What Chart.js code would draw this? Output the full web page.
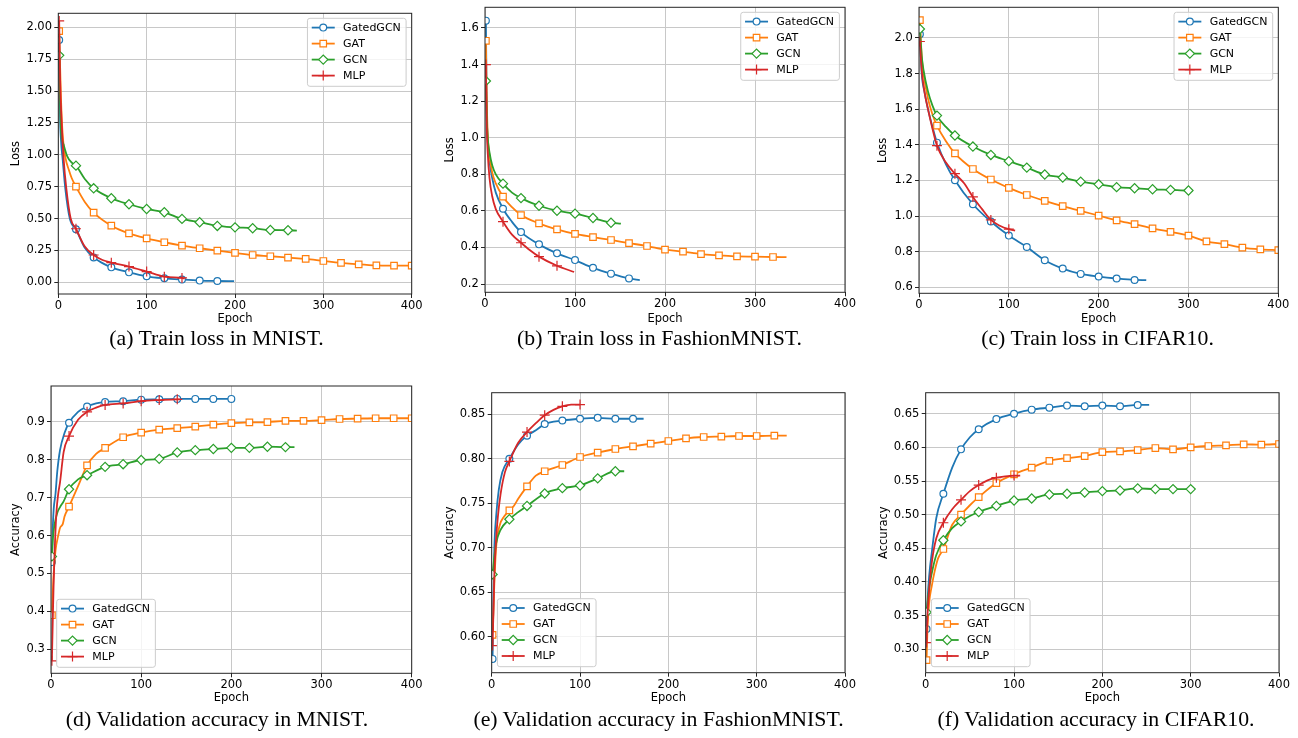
<!DOCTYPE html>
<html><head><meta charset="utf-8">
<script src="https://cdn.jsdelivr.net/npm/chart.js@4.4.1/dist/chart.umd.min.js"></script>
<style>
html,body{margin:0;padding:0;background:#fff;}
body{width:1298px;height:738px;position:relative;overflow:hidden;}
canvas{position:absolute;}
.cap{position:absolute;font-family:"Liberation Serif","Times New Roman",serif;font-size:21.8px;line-height:21.8px;white-space:nowrap;color:#000;transform:translateX(-50%);}
</style></head><body>
<div class="cap" style="left:216.5px;top:328px">(a) Train loss in MNIST.</div>
<div class="cap" style="left:659.5px;top:328px">(b) Train loss in FashionMNIST.</div>
<div class="cap" style="left:1097.5px;top:328px">(c) Train loss in CIFAR10.</div>
<div class="cap" style="left:217px;top:709px">(d) Validation accuracy in MNIST.</div>
<div class="cap" style="left:658.5px;top:709px">(e) Validation accuracy in FashionMNIST.</div>
<div class="cap" style="left:1096px;top:709px">(f) Validation accuracy in CIFAR10.</div>
<script>
// ---------- data ----------
const seriesNames = ['GatedGCN', 'GAT', 'GCN', 'MLP'];
const xTicks = [0, 100, 200, 300, 400];

// (a) Train loss in MNIST
const aYTicks = [0, 0.25, 0.5, 0.75, 1.0, 1.25, 1.5, 1.75, 2.0];
const aGatedEpochs = [1,2,3,5,8,13,20,30,40,50,60,80,100,120,140,160,180,199];
const aGatedLoss   = [1.90,1.30,1.12,0.96,0.73,0.50,0.416,0.27,0.195,0.15,0.117,0.078,0.047,0.031,0.021,0.013,0.010,0.009];
const aGatEpochs = [1,3,5,8,12,15,20,30,40,60,80,100,120,140,160,180,200,220,240,260,280,300,320,340,360,380,400];
const aGatLoss   = [1.97,1.45,1.15,0.98,0.88,0.82,0.75,0.63,0.546,0.444,0.384,0.345,0.314,0.288,0.267,0.248,0.230,0.214,0.204,0.193,0.183,0.167,0.152,0.141,0.133,0.131,0.130];
const aGcnEpochs = [1,2,3,6,10,15,20,30,40,60,80,100,120,140,160,180,200,220,240,260,270];
const aGcnLoss   = [1.78,1.45,1.20,1.08,0.99,0.94,0.915,0.81,0.737,0.659,0.612,0.575,0.549,0.497,0.471,0.442,0.431,0.424,0.410,0.408,0.405];
const aMlpEpochs = [1,2,4,6,9,14,20,30,40,50,60,80,100,120,140,143];
const aMlpLoss   = [2.05,1.60,1.22,0.97,0.74,0.50,0.42,0.28,0.214,0.175,0.154,0.123,0.084,0.044,0.034,0.030];

// (b) Train loss in FashionMNIST
const bYTicks = [0.2, 0.4, 0.6, 0.8, 1.0, 1.2, 1.4, 1.6];
const bGatedEpochs = [1,2,3,5,8,12,20,30,40,60,80,100,120,140,160,172];
const bGatedLoss   = [1.64,1.15,0.98,0.87,0.78,0.70,0.612,0.54,0.484,0.417,0.368,0.331,0.289,0.257,0.231,0.222];
const bGatEpochs = [1,2,3,5,8,12,20,30,40,60,80,100,120,140,160,180,200,220,240,260,280,300,320,335];
const bGatLoss   = [1.53,1.20,1.02,0.90,0.81,0.75,0.678,0.62,0.577,0.532,0.499,0.474,0.457,0.441,0.424,0.408,0.388,0.377,0.364,0.357,0.351,0.350,0.348,0.347];
const bGcnEpochs = [1,2,3,5,8,12,20,30,40,60,80,100,120,140,151];
const bGcnLoss   = [1.31,1.10,1.00,0.92,0.85,0.80,0.749,0.70,0.670,0.628,0.601,0.585,0.561,0.535,0.530];
const bMlpEpochs = [1,2,3,5,8,12,20,30,40,50,60,80,99];
const bMlpLoss   = [1.40,1.05,0.92,0.78,0.68,0.61,0.541,0.47,0.426,0.385,0.350,0.300,0.266];

// (c) Train loss in CIFAR10
const cYTicks = [0.6, 0.8, 1.0, 1.2, 1.4, 1.6, 1.8, 2.0];
const cGatedEpochs = [1,3,6,10,15,20,30,40,60,80,100,120,140,160,180,200,220,240,253];
const cGatedLoss   = [2.02,1.80,1.70,1.60,1.50,1.412,1.29,1.201,1.066,0.969,0.890,0.826,0.752,0.705,0.675,0.660,0.649,0.641,0.640];
const cGatEpochs = [1,3,5,10,15,20,30,40,60,80,100,120,140,160,180,200,220,240,260,280,300,320,340,360,380,400];
const cGatLoss   = [2.10,1.90,1.80,1.66,1.57,1.508,1.42,1.352,1.264,1.205,1.158,1.118,1.085,1.055,1.029,1.002,0.976,0.954,0.931,0.911,0.890,0.858,0.842,0.823,0.813,0.808];
const cGcnEpochs = [1,3,5,10,15,20,30,40,60,80,100,120,140,160,180,200,220,240,260,280,300,305];
const cGcnLoss   = [2.05,1.90,1.82,1.70,1.62,1.564,1.50,1.452,1.390,1.343,1.308,1.272,1.233,1.216,1.193,1.178,1.162,1.156,1.150,1.147,1.143,1.143];
const cMlpEpochs = [1,3,6,10,15,20,30,40,50,60,70,80,90,100,107];
const cMlpLoss   = [1.98,1.82,1.70,1.60,1.49,1.395,1.30,1.238,1.185,1.107,1.04,0.978,0.945,0.926,0.918];

// (d) Validation accuracy in MNIST
const dYTicks = [0.3, 0.4, 0.5, 0.6, 0.7, 0.8, 0.9];
const dGatedEpochs = [1,2,3,5,7,10,15,20,30,40,50,60,80,100,120,140,160,180,200];
const dGatedAcc    = [0.53,0.62,0.67,0.71,0.77,0.825,0.87,0.897,0.926,0.940,0.948,0.952,0.954,0.958,0.959,0.960,0.960,0.960,0.960];
const dGatEpochs = [1,2,3,5,8,10,13,15,20,30,40,50,60,80,100,120,140,160,180,200,220,240,260,280,300,320,340,360,380,400];
const dGatAcc    = [0.39,0.45,0.50,0.56,0.60,0.62,0.63,0.65,0.676,0.73,0.785,0.815,0.831,0.859,0.871,0.879,0.883,0.887,0.892,0.896,0.898,0.899,0.902,0.902,0.904,0.907,0.908,0.909,0.909,0.909];
const dGcnEpochs = [1,2,4,7,10,14,20,30,40,60,80,100,120,140,160,180,200,220,240,260,270];
const dGcnAcc    = [0.545,0.59,0.63,0.66,0.675,0.69,0.722,0.748,0.759,0.781,0.788,0.799,0.802,0.819,0.825,0.828,0.831,0.831,0.834,0.833,0.833];
const dMlpEpochs = [1,2,3,4,6,8,10,14,20,30,40,50,60,80,100,120,140,143];
const dMlpAcc    = [0.27,0.38,0.48,0.555,0.66,0.71,0.74,0.82,0.862,0.905,0.926,0.937,0.944,0.948,0.954,0.957,0.959,0.959];

// (e) Validation accuracy in FashionMNIST
const eYTicks = [0.60, 0.65, 0.70, 0.75, 0.80, 0.85];
const eGatedEpochs = [1,2,3,5,8,12,20,30,40,50,60,80,100,120,140,160,172];
const eGatedAcc    = [0.575,0.65,0.70,0.735,0.765,0.785,0.80,0.816,0.826,0.832,0.839,0.843,0.845,0.846,0.845,0.845,0.845];
const eGatEpochs = [1,2,3,5,9,14,20,25,30,40,50,60,80,100,120,140,160,180,200,220,240,260,280,300,320,334];
const eGatAcc    = [0.602,0.63,0.66,0.70,0.725,0.735,0.742,0.747,0.755,0.769,0.781,0.786,0.793,0.802,0.807,0.811,0.814,0.817,0.820,0.823,0.8245,0.825,0.8256,0.8256,0.826,0.826];
const eGcnEpochs = [1,3,5,10,20,30,40,60,80,100,120,140,150];
const eGcnAcc    = [0.67,0.69,0.705,0.72,0.732,0.740,0.747,0.761,0.767,0.770,0.778,0.786,0.786];
const eMlpEpochs = [1,2,3,5,7,10,15,20,30,40,50,60,70,80,90,100];
const eMlpAcc    = [0.59,0.63,0.67,0.71,0.735,0.76,0.785,0.797,0.818,0.830,0.840,0.849,0.855,0.859,0.861,0.861];

// (f) Validation accuracy in CIFAR10
const fYTicks = [0.30, 0.35, 0.40, 0.45, 0.50, 0.55, 0.60, 0.65];
const fGatedEpochs = [1,2,4,7,12,20,30,40,50,60,80,100,120,140,160,180,200,220,240,253];
const fGatedAcc    = [0.33,0.37,0.41,0.445,0.495,0.531,0.57,0.597,0.615,0.627,0.642,0.650,0.656,0.659,0.662,0.661,0.662,0.661,0.663,0.663];
const fGatEpochs = [1,2,4,7,10,14,20,30,40,50,60,80,100,120,140,160,180,200,220,240,260,280,300,320,340,360,380,400];
const fGatAcc    = [0.284,0.33,0.37,0.395,0.415,0.435,0.449,0.485,0.50,0.514,0.526,0.547,0.560,0.570,0.580,0.584,0.587,0.593,0.594,0.596,0.599,0.597,0.600,0.602,0.603,0.6045,0.604,0.605];
const fGcnEpochs = [1,3,5,8,12,20,30,40,50,60,80,100,120,140,160,180,200,220,240,260,280,300,305];
const fGcnAcc    = [0.355,0.38,0.40,0.42,0.44,0.462,0.48,0.490,0.498,0.504,0.513,0.521,0.524,0.530,0.531,0.533,0.535,0.536,0.539,0.538,0.538,0.538,0.538];
const fMlpEpochs = [1,2,4,7,12,20,30,40,50,60,70,80,90,100,107];
const fMlpAcc    = [0.31,0.35,0.39,0.43,0.465,0.488,0.508,0.522,0.535,0.544,0.551,0.555,0.557,0.558,0.558];

// ---------- styling ----------
const colors = ['#1f77b4', '#ff7f0e', '#2ca02c', '#d62728'];
const markers = [
  {style: 'circle', r: 3.4},
  {style: 'rect', r: 4.6},
  {style: 'rectRot', r: 4.6},
  {style: 'cross', r: 5}
];
const markEvery = 20;
const FS = 11.5;
const FONT = 'DejaVu Sans';
Chart.defaults.font.family = FONT;
Chart.defaults.font.size = FS;
Chart.defaults.color = '#000';

const panels = [
  {box:{x:0,y:-12,w:430,h:345}, area:{L:58.3,R:411.7,T:13.3,B:294}, yMin:-0.092, yMax:2.11, yTicks:aYTicks, dec:2, yTitle:'Loss', titleX:15.7, epochY:319.3, legend:'tr',
   series:[[aGatedEpochs,aGatedLoss],[aGatEpochs,aGatLoss],[aGcnEpochs,aGcnLoss],[aMlpEpochs,aMlpLoss]]},
  {box:{x:430,y:-12,w:430,h:345}, area:{L:485,R:845,T:7.3,B:292.3}, yMin:0.155, yMax:1.713, yTicks:bYTicks, dec:1, yTitle:'Loss', titleX:450, epochY:319.3, legend:'tr',
   series:[[bGatedEpochs,bGatedLoss],[bGatEpochs,bGatLoss],[bGcnEpochs,bGcnLoss],[bMlpEpochs,bMlpLoss]]},
  {box:{x:860,y:-12,w:438,h:345}, area:{L:919,R:1278.3,T:7.3,B:293.3}, yMin:0.566, yMax:2.172, yTicks:cYTicks, dec:1, yTitle:'Loss', titleX:883.3, epochY:319.3, legend:'tr',
   series:[[cGatedEpochs,cGatedLoss],[cGatEpochs,cGatLoss],[cGcnEpochs,cGcnLoss],[cMlpEpochs,cMlpLoss]]},
  {box:{x:0,y:360,w:430,h:355}, area:{L:51,R:411.7,T:386,B:673.3}, yMin:0.237, yMax:0.994, yTicks:dYTicks, dec:1, yTitle:'Accuracy', titleX:15.7, epochY:698.3, legend:'bl',
   series:[[dGatedEpochs,dGatedAcc],[dGatEpochs,dGatAcc],[dGcnEpochs,dGcnAcc],[dMlpEpochs,dMlpAcc]]},
  {box:{x:430,y:360,w:430,h:355}, area:{L:491.7,R:845,T:392.7,B:672.7}, yMin:0.5595, yMax:0.8743, yTicks:eYTicks, dec:2, yTitle:'Accuracy', titleX:450, epochY:698.3, legend:'bl',
   series:[[eGatedEpochs,eGatedAcc],[eGatEpochs,eGatAcc],[eGcnEpochs,eGcnAcc],[eMlpEpochs,eMlpAcc]]},
  {box:{x:860,y:360,w:438,h:355}, area:{L:925.7,R:1279,T:392.7,B:672.7}, yMin:0.2652, yMax:0.6812, yTicks:fYTicks, dec:2, yTitle:'Accuracy', titleX:884, epochY:698.3, legend:'bl',
   series:[[fGatedEpochs,fGatedAcc],[fGatEpochs,fGatAcc],[fGcnEpochs,fGcnAcc],[fMlpEpochs,fMlpAcc]]}
];

function drawMarker(ctx, style, x, y, r) {
  ctx.beginPath();
  if (style === 'circle') {
    ctx.arc(x, y, r, 0, Math.PI * 2);
    ctx.fill(); ctx.stroke();
  } else if (style === 'rect') {
    const s = Math.SQRT1_2 * r;
    ctx.rect(x - s, y - s, 2 * s, 2 * s);
    ctx.fill(); ctx.stroke();
  } else if (style === 'rectRot') {
    ctx.moveTo(x - r, y); ctx.lineTo(x, y - r); ctx.lineTo(x + r, y); ctx.lineTo(x, y + r); ctx.closePath();
    ctx.fill(); ctx.stroke();
  } else if (style === 'cross') {
    ctx.moveTo(x - r, y); ctx.lineTo(x + r, y); ctx.moveTo(x, y - r); ctx.lineTo(x, y + r);
    ctx.stroke();
  }
}

const mplPlugin = {
  id: 'mplFrameLegend',
  afterDraw(chart, args, opts) {
    const ctx = chart.ctx, a = chart.chartArea;
    ctx.save();
    // frame (all four spines)
    ctx.strokeStyle = '#262626';
    ctx.lineWidth = 1;
    ctx.strokeRect(a.left, a.top, a.right - a.left, a.bottom - a.top);
    // legend
    ctx.font = '11px "' + FONT + '"';
    const ds = chart.data.datasets;
    const pad = 4.3, handle = 23, gap = 8.3, rowH = 16;
    const tw = Math.max(...ds.map(d => ctx.measureText(d.label).width));
    const w = pad + handle + gap + tw + pad + 1;
    const h = 9.3 + rowH * (ds.length - 1) + 10.7;
    let x0, y0;
    if (opts.corner === 'tr') { x0 = a.right - 5.6 - w; y0 = a.top + 5; }
    else { x0 = a.left + 5.7; y0 = a.bottom - 6 - h; }
    ctx.beginPath();
    if (ctx.roundRect) ctx.roundRect(x0, y0, w, h, 2.5); else ctx.rect(x0, y0, w, h);
    ctx.fillStyle = 'rgba(255,255,255,0.8)';
    ctx.fill();
    ctx.strokeStyle = '#cccccc';
    ctx.lineWidth = 1;
    ctx.stroke();
    ds.forEach((d, i) => {
      const cy = y0 + 9.3 + i * rowH;
      ctx.strokeStyle = d.borderColor;
      ctx.lineWidth = d.borderWidth;
      ctx.beginPath();
      ctx.moveTo(x0 + pad, cy); ctx.lineTo(x0 + pad + handle, cy);
      ctx.stroke();
      ctx.fillStyle = '#fff';
      ctx.lineWidth = 1.2;
      drawMarker(ctx, markers[i].style, x0 + pad + handle / 2, cy, markers[i].r);
      ctx.fillStyle = '#000';
      ctx.textBaseline = 'middle';
      ctx.textAlign = 'left';
      ctx.fillText(d.label, x0 + pad + handle + gap, cy + 0.5);
    });
    ctx.restore();
  }
};

function build(p) {
  const cv = document.createElement('canvas');
  cv.width = p.box.w; cv.height = p.box.h;
  cv.style.left = p.box.x + 'px'; cv.style.top = p.box.y + 'px';
  cv.style.width = p.box.w + 'px'; cv.style.height = p.box.h + 'px';
  document.body.insertBefore(cv, document.body.firstChild);
  const lh = FS * 1.2, tPad = 2;
  const yW = p.area.L - p.titleX + lh / 2 + tPad;
  const padL = p.area.L - p.box.x - yW;
  const xH = p.epochY - p.area.B + lh / 2 + tPad;
  const padB = (p.box.y + p.box.h) - p.area.B - xH;
  const padT = p.area.T - p.box.y;
  const padR = p.box.x + p.box.w - p.area.R;
  const gridCommon = {color: '#c8c8c8', lineWidth: 1, tickColor: '#262626', tickLength: 4, tickWidth: 1, drawTicks: true};
  new Chart(cv, {
    type: 'line',
    data: {
      datasets: p.series.map((s, i) => ({
        label: seriesNames[i],
        data: s[0].map((x, j) => ({x: x, y: s[1][j]})),
        borderColor: colors[i],
        backgroundColor: colors[i],
        borderWidth: 1.8,
        fill: false,
        cubicInterpolationMode: 'monotone',
        pointStyle: markers[i].style,
        pointRadius: ctx => (ctx.raw && (ctx.dataIndex === 0 || ctx.raw.x % markEvery === 0)) ? markers[i].r : 0,
        pointBorderColor: colors[i],
        pointBackgroundColor: '#ffffff',
        pointBorderWidth: 1.2,
        order: 4 - i
      }))
    },
    options: {
      responsive: false,
      animation: false,
      events: [],
      layout: {padding: {left: padL, right: padR, top: padT, bottom: padB}},
      plugins: {legend: {display: false}, tooltip: {enabled: false}, mplFrameLegend: {corner: p.legend}},
      scales: {
        x: {
          type: 'linear', min: 0, max: 400,
          afterBuildTicks: sc => { sc.ticks = xTicks.map(v => ({value: v})); },
          afterFit: sc => { sc.height = xH; },
          grid: gridCommon,
          border: {display: false},
          ticks: {padding: 1, maxRotation: 0, color: '#000', font: {size: FS}, callback: v => String(v)},
          title: {display: true, text: 'Epoch', color: '#000', font: {size: FS}, padding: {top: 0, bottom: tPad}}
        },
        y: {
          type: 'linear', min: p.yMin, max: p.yMax,
          afterBuildTicks: sc => { sc.ticks = p.yTicks.map(v => ({value: v})); },
          afterFit: sc => { sc.width = yW; },
          grid: gridCommon,
          border: {display: false},
          ticks: {padding: 2.3, color: '#000', font: {size: FS}, callback: v => Number(v).toFixed(p.dec)},
          title: {display: true, text: p.yTitle, color: '#000', font: {size: FS}, padding: {top: tPad, bottom: 0}}
        }
      }
    },
    plugins: [mplPlugin]
  });
}
panels.forEach(build);
</script>
</body></html>
